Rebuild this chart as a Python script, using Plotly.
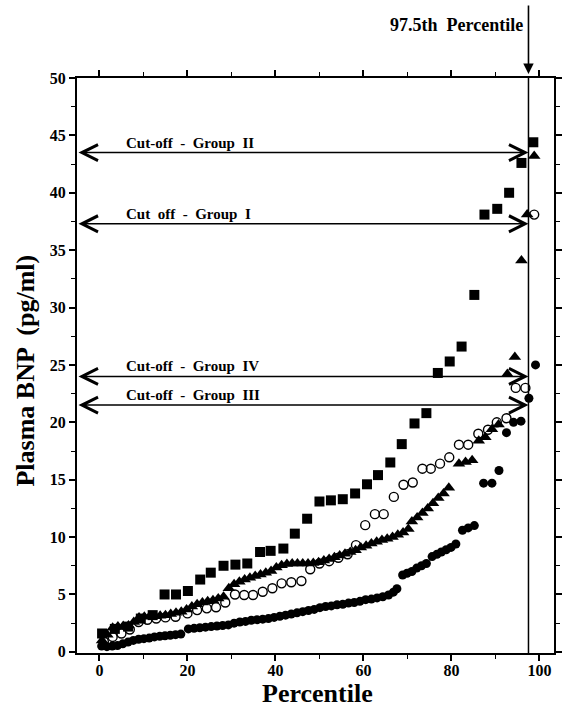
import plotly.graph_objects as go

# ---------------- data ----------------
sq_x = [0.6, 3.5, 6.5, 9.4, 12.1, 14.8, 17.4, 20.1, 22.9, 25.3, 28.2, 30.9, 33.6, 36.5, 38.9,
        41.8, 44.4, 47.2, 50.0, 52.6, 55.3, 58.1, 60.8, 63.3, 66.1, 68.7, 71.6, 74.3, 76.9,
        79.6, 82.3, 85.2, 87.5, 90.4, 93.1, 95.9, 98.6]
sq_y = [1.6, 2.0, 2.2, 2.9, 3.2, 5.0, 5.0, 5.3, 6.3, 6.9, 7.5, 7.6, 7.7, 8.7, 8.8,
        9.0, 10.3, 11.6, 13.1, 13.2, 13.3, 13.8, 14.6, 15.4, 16.5, 18.1, 19.9, 20.8, 24.3,
        25.3, 26.6, 31.1, 38.1, 38.6, 40.0, 42.6, 44.4]

tri_x = [0.6, 1.8, 3.0, 4.2, 5.4, 6.6, 7.8, 9.0, 10.2, 11.4, 12.6, 13.8, 15.0, 16.2, 17.4,
         18.6, 19.8, 21.0, 22.2, 23.4, 24.6, 25.8, 27.0, 28.2, 29.4, 30.6, 31.8, 33.0, 34.2,
         35.4, 36.6, 37.8, 39.0, 40.2, 41.4, 42.6, 43.8, 45.0, 46.2, 47.4, 48.6, 49.8, 51.0,
         52.2, 53.4, 54.6, 55.8, 57.0, 58.2, 59.4, 60.6, 61.8, 63.0, 64.2, 65.4, 66.6, 67.8,
         69.0, 70.2, 71.0, 72.2, 73.4, 74.6, 75.8, 77.0, 78.2, 79.4, 81.7, 83.2, 84.7, 86.2,
         87.7, 89.2, 90.7, 92.7, 94.4, 95.9, 97.2, 98.8]
tri_y = [1.0, 1.5, 2.1, 2.2, 2.25, 2.3, 2.6, 3.0, 3.05, 3.1, 3.1, 3.15, 3.2, 3.3, 3.4,
         3.5, 3.7, 3.95, 4.15, 4.3, 4.4, 4.5, 4.65, 4.8, 5.55, 5.9, 6.1, 6.3, 6.45,
         6.6, 6.75, 6.9, 7.05, 7.35, 7.55, 7.65, 7.7, 7.7, 7.7, 7.7, 7.75, 7.8, 7.95,
         8.1, 8.25, 8.4, 8.55, 8.7, 8.85, 9.1, 9.25, 9.45, 9.6, 9.75, 9.85, 10.0, 10.2,
         10.4, 10.7, 11.35, 11.7, 12.1, 12.5, 12.95, 13.4, 13.8, 14.3, 16.4, 16.55, 16.7, 18.4,
         18.7, 19.4, 19.8, 24.2, 25.7, 34.1, 38.1, 43.2]

oc_x = [1.0, 3.0, 5.0, 6.9, 8.9, 10.9, 12.9, 15.0, 17.3, 20.0, 22.2, 24.4, 26.5, 28.6,
        30.8, 32.9, 34.9, 37.1, 39.3, 41.4, 43.6, 45.9, 47.9, 50.0, 52.2, 54.3, 56.4, 58.3,
        60.4, 62.6, 64.6, 66.9, 69.1, 71.2, 73.4, 75.3, 77.4, 79.5, 81.7, 83.8, 86.1, 88.3,
        90.3, 92.5, 94.6, 96.8, 98.8]
oc_y = [0.9, 1.3, 1.6, 1.95, 2.6, 2.8, 2.9, 3.0, 3.06, 3.35, 3.64, 3.79, 3.88, 4.3,
        5.0, 4.95, 4.95, 5.24, 5.54, 5.97, 6.06, 6.17, 7.2, 7.7, 7.9, 8.2, 8.5, 9.3,
        11.04, 12.0, 12.0, 13.5, 14.56, 14.76, 15.96, 15.96, 16.4, 16.95, 18.05, 18.05, 19.0, 19.35,
        20.0, 20.35, 23.0, 23.0, 38.1]

fc_x = [0.5, 1.7, 2.9, 4.1, 5.3, 6.5, 7.7, 8.9, 10.1, 11.3, 12.5, 13.7, 14.9, 16.1, 17.3,
        18.5, 20.2, 21.5, 22.8, 24.1, 25.4, 26.7, 28.0, 29.3, 30.6, 31.9, 33.2, 34.5, 35.8,
        37.1, 38.4, 39.7, 41.0, 42.3, 43.6, 44.9, 46.2, 47.5, 48.8, 50.1, 51.4, 52.7, 54.0,
        55.3, 56.6, 57.9, 59.2, 60.5, 61.8, 63.1, 64.4, 65.7, 66.8, 67.6, 68.9, 69.9, 71.0,
        72.1, 73.2, 74.3, 75.6, 76.7, 77.7, 78.8, 79.9, 81.0, 82.5, 83.8, 85.2, 87.3, 89.2,
        90.8, 92.5, 94.1, 95.8, 97.6, 99.1]
fc_y = [0.5, 0.45, 0.5, 0.55, 0.7, 0.85, 1.0, 1.1, 1.15, 1.2, 1.3, 1.35, 1.4, 1.45, 1.5,
        1.55, 2.0, 2.05, 2.1, 2.15, 2.2, 2.25, 2.3, 2.35, 2.5, 2.6, 2.65, 2.75, 2.8,
        2.85, 2.9, 3.0, 3.1, 3.2, 3.3, 3.4, 3.5, 3.6, 3.7, 3.85, 3.95, 4.0, 4.1,
        4.15, 4.25, 4.3, 4.4, 4.55, 4.6, 4.7, 4.8, 4.95, 5.2, 5.5, 6.7, 6.85, 7.0,
        7.3, 7.5, 7.7, 8.3, 8.5, 8.7, 8.9, 9.1, 9.4, 10.6, 10.8, 11.0, 14.7, 14.7,
        15.8, 19.1, 20.0, 20.1, 22.1, 25.0]

cutoff_values = [43.5, 37.3, 24.0, 21.5]
cutoff_labels = ["Cut-off \u00a0- \u00a0Group \u00a0II", "Cut \u00a0off \u00a0- \u00a0Group \u00a0I",
                 "Cut-off \u00a0- \u00a0Group \u00a0IV", "Cut-off \u00a0- \u00a0Group \u00a0III"]
percentile_line = 97.5
x_ticks = [0, 20, 40, 60, 80, 100]
y_ticks = [0, 5, 10, 15, 20, 25, 30, 35, 40, 45, 50]

X_RANGE = [-5.1, 103.3]
Y_RANGE = [-0.1, 50]
FONT = "Liberation Serif"

fig = go.Figure()

fig.add_trace(go.Scatter(x=oc_x, y=oc_y, mode="markers",
                         marker=dict(symbol="circle-open", size=9, color="black",
                                     line=dict(width=1.4, color="black")),
                         cliponaxis=False))
fig.add_trace(go.Scatter(x=tri_x, y=tri_y, mode="markers",
                         marker=dict(symbol="triangle-up", size=11, color="black"),
                         cliponaxis=False))
fig.add_trace(go.Scatter(x=sq_x, y=sq_y, mode="markers",
                         marker=dict(symbol="square", size=10, color="black"),
                         cliponaxis=False))
fig.add_trace(go.Scatter(x=fc_x, y=fc_y, mode="markers",
                         marker=dict(symbol="circle", size=9, color="black"),
                         cliponaxis=False))

# vertical 97.5th percentile line
fig.add_shape(type="line", xref="x", yref="y", x0=percentile_line, x1=percentile_line,
              y0=Y_RANGE[0], y1=Y_RANGE[1], line=dict(color="black", width=1.5))

# cut-off double arrows + labels
for val, lab in zip(cutoff_values, cutoff_labels):
    fig.add_annotation(x=percentile_line, y=val, ax=X_RANGE[0], ay=val,
                       xref="x", yref="y", axref="x", ayref="y", text="",
                       showarrow=True, arrowside="end+start",
                       arrowhead=5, startarrowhead=5, arrowsize=2.1, startarrowsize=2.1,
                       arrowwidth=1.5, arrowcolor="black", standoff=0, startstandoff=0)
    fig.add_annotation(x=5.5, y=val, xref="x", yref="y", text=lab, showarrow=False,
                       xanchor="left", yanchor="bottom", yshift=0,
                       font=dict(family=FONT, size=15, color="black", weight="bold"))

# 97.5th percentile pointer
fig.add_annotation(x=percentile_line, y=Y_RANGE[1], xref="x", yref="y", ax=0, ay=-74,
                   text="", showarrow=True, arrowhead=2, arrowsize=1.3, arrowwidth=1.6,
                   arrowcolor="black", standoff=4)
fig.add_annotation(x=percentile_line, y=Y_RANGE[1], xref="x", yref="y",
                   text="97.5th \u00a0Percentile",
                   showarrow=False, xanchor="right", yanchor="middle", xshift=-3, yshift=53,
                   font=dict(family=FONT, size=18, color="black", weight="bold"))

# axis titles
fig.add_annotation(x=0.505, y=-0.07, xref="paper", yref="paper", text="Percentile",
                   showarrow=False, yanchor="middle",
                   font=dict(family=FONT, size=26, color="black", weight="bold"))
fig.add_annotation(x=-0.108, y=0.492, xref="paper", yref="paper", text="Plasma BNP \u00a0(pg/ml)",
                   showarrow=False, textangle=-90, xanchor="center", yanchor="middle",
                   font=dict(family=FONT, size=26, color="black", weight="bold"))

axis_common = dict(showgrid=False, zeroline=False, showline=True, linecolor="black",
                   linewidth=2, mirror="allticks", ticks="outside", ticklen=6,
                   tickwidth=1.5, tickcolor="black",
                   tickfont=dict(family=FONT, size=16, color="black", weight="bold"))

fig.update_xaxes(range=X_RANGE, tickvals=x_ticks, ticktext=[str(v) for v in x_ticks],
                 ticklabelstandoff=-4,
                 minor=dict(dtick=10, tick0=0, ticks="outside", ticklen=4, tickwidth=1.2,
                            tickcolor="black"),
                 **axis_common)
fig.update_yaxes(range=Y_RANGE, tickvals=y_ticks, ticktext=[str(v) for v in y_ticks],
                 minor=dict(dtick=2.5, tick0=0, ticks="outside", ticklen=4, tickwidth=1.2,
                            tickcolor="black"),
                 **axis_common)

fig.update_layout(width=571, height=709, showlegend=False,
                  margin=dict(l=77, r=9, t=78, b=56),
                  plot_bgcolor="white", paper_bgcolor="white")

fig.write_html("out.html")
